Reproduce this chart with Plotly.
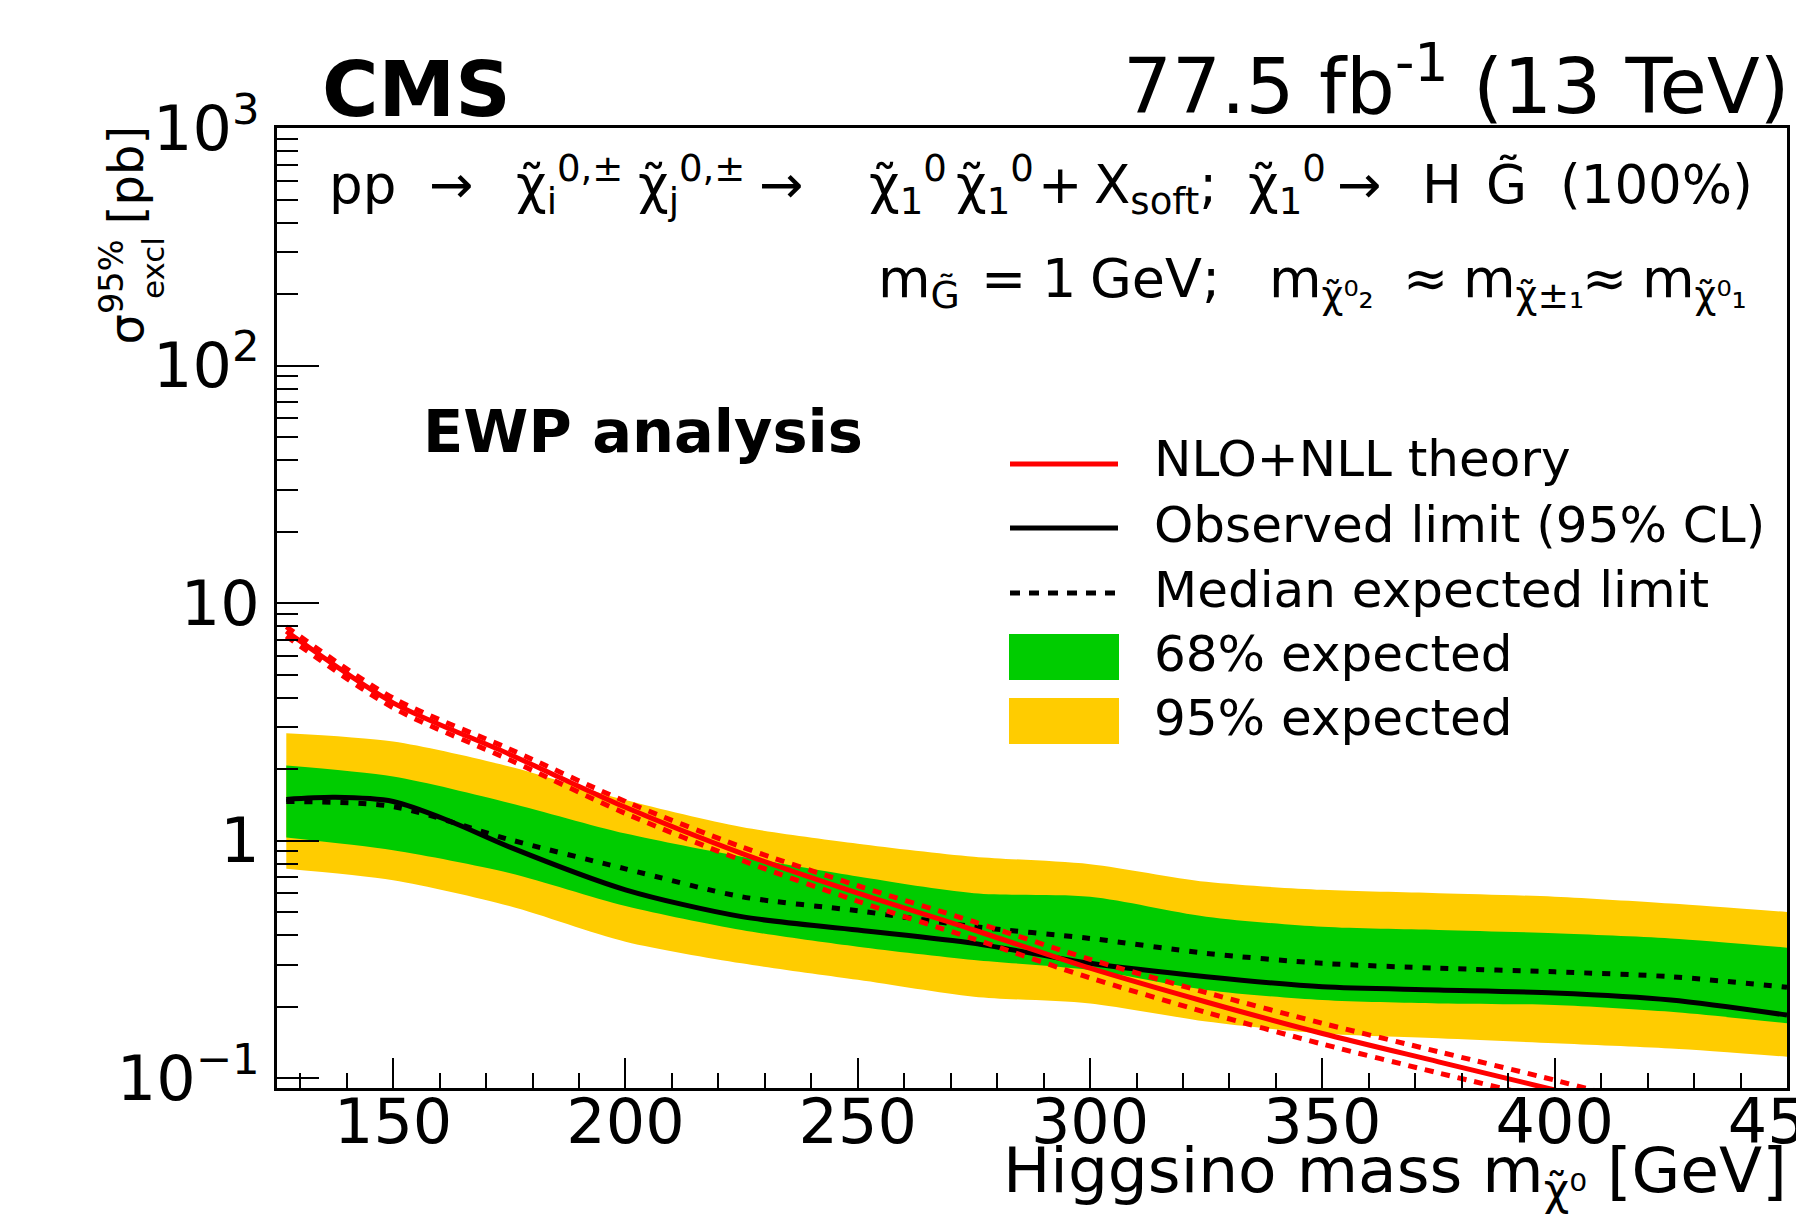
import plotly.graph_objects as go

# ---------------- data ----------------
mass = [127, 150, 175, 200, 225, 250, 275, 300, 325, 350, 375, 400, 425, 450]
yellow_hi = [2.83, 2.61, 2.05, 1.48, 1.14, 0.97, 0.855, 0.795, 0.67, 0.62, 0.60, 0.58, 0.543, 0.50]
green_hi = [2.07, 1.86, 1.44, 1.07, 0.855, 0.705, 0.60, 0.58, 0.478, 0.433, 0.42, 0.407, 0.387, 0.354]
green_lo = [1.03, 0.91, 0.73, 0.53, 0.42, 0.357, 0.314, 0.285, 0.235, 0.213, 0.206, 0.203, 0.19, 0.17]
yellow_lo = [0.76, 0.68, 0.53, 0.375, 0.304, 0.259, 0.22, 0.206, 0.173, 0.154, 0.147, 0.14, 0.133, 0.123]
expected = [1.46, 1.39, 1.01, 0.76, 0.58, 0.506, 0.434, 0.387, 0.335, 0.304, 0.29, 0.28, 0.267, 0.241]

mass_obs = [127, 137.5, 150, 162.5, 175, 200, 225, 250, 275, 300, 325, 350, 375, 400, 425, 450]
observed = [1.49, 1.52, 1.46, 1.20, 0.94, 0.62, 0.478, 0.42, 0.369, 0.304, 0.267, 0.242, 0.235, 0.228, 0.213, 0.184]

mass_th = [127, 150, 175, 200, 225, 250, 275, 300, 325, 350, 375, 400, 410]
theory = [7.6, 3.80, 2.31, 1.38, 0.883, 0.60, 0.42, 0.29, 0.209, 0.154, 0.117, 0.089, 0.079]
theory_up = [7.95, 3.98, 2.43, 1.46, 0.94, 0.645, 0.455, 0.316, 0.229, 0.170, 0.129, 0.098, 0.087]
theory_dn = [7.25, 3.62, 2.19, 1.30, 0.826, 0.555, 0.385, 0.264, 0.189, 0.139, 0.105, 0.080, 0.071]

x_major = [150, 200, 250, 300, 350, 400, 450]
y_major = [0.1, 1, 10, 100, 1000]
y_major_text = ["10<sup>\u22121</sup>", "1", "10", "10<sup>2</sup>", "10<sup>3</sup>"]

legend_labels = ["NLO+NLL theory", "Observed limit (95% CL)", "Median expected limit",
                 "68% expected", "95% expected"]

# ---------------- style ----------------
FONT = "DejaVu Sans"
W, H = 1796, 1224
L, R, T, B = 277, 9, 128, 136
YELLOW, GREEN, RED = "#FFCC00", "#00CC00", "#FF0000"
SP = "<sup>\u00a0</sup><sub>\u00a0</sub>"  # keeps every text piece on the same baseline

x_minor = [m for m in range(130, 450, 10) if m % 50 != 0]
y_minor = [k * 10.0 ** e for e in range(-2, 3) for k in range(2, 10)]

fig = go.Figure()
spl = dict(shape="spline", smoothing=0.8)

fig.add_trace(go.Scatter(x=mass, y=yellow_lo, mode="lines", line=dict(width=0, **spl),
                         showlegend=False, hoverinfo="skip"))
fig.add_trace(go.Scatter(x=mass, y=yellow_hi, mode="lines", line=dict(width=0, **spl),
                         fill="tonexty", fillcolor=YELLOW, name=legend_labels[4]))
fig.add_trace(go.Scatter(x=mass, y=green_lo, mode="lines", line=dict(width=0, **spl),
                         showlegend=False, hoverinfo="skip"))
fig.add_trace(go.Scatter(x=mass, y=green_hi, mode="lines", line=dict(width=0, **spl),
                         fill="tonexty", fillcolor=GREEN, name=legend_labels[3]))
fig.add_trace(go.Scatter(x=mass, y=expected, mode="lines",
                         line=dict(color="black", width=5, dash="8px,10px", **spl),
                         name=legend_labels[2]))
fig.add_trace(go.Scatter(x=mass_obs, y=observed, mode="lines",
                         line=dict(color="black", width=5, **spl),
                         name=legend_labels[1]))
for arr in (theory_up, theory_dn):
    fig.add_trace(go.Scatter(x=mass_th, y=arr, mode="lines",
                             line=dict(color=RED, width=5, dash="9px,8px", **spl),
                             showlegend=False, hoverinfo="skip"))
fig.add_trace(go.Scatter(x=mass_th, y=theory, mode="lines",
                         line=dict(color=RED, width=5, **spl),
                         name=legend_labels[0]))

axis_common = dict(showline=True, linewidth=3, linecolor="black", mirror=True, showgrid=False,
                   zeroline=False, ticks="inside", tickwidth=2, tickcolor="black", automargin=False,
                   tickfont=dict(family=FONT, size=62, color="black"))

fig.update_xaxes(range=[125, 450], tickmode="array", tickvals=x_major,
                 ticktext=[str(v) for v in x_major], ticklen=30, ticklabelstandoff=-22,
                 ticklabeloverflow="allow",
                 minor=dict(tickmode="array", tickvals=x_minor, ticklen=15, ticks="inside",
                            tickwidth=2, tickcolor="black"),
                 **axis_common)
fig.update_yaxes(type="log", range=[-1.042, 3], tickmode="array", tickvals=y_major,
                 ticktext=y_major_text, ticklen=42, ticklabelstandoff=2,
                 minor=dict(tickmode="array", tickvals=y_minor, ticklen=21, ticks="inside",
                            tickwidth=2, tickcolor="black"),
                 **axis_common)

pw, ph = W - L - R, H - T - B


def px(X):
    return (X - L) / pw


def py(Y):
    return (H - B - Y) / ph


def txt(text, X, Y, size, xa="left", ya="middle", angle=0):
    return dict(text=text, x=px(X), y=py(Y), xanchor=xa, yanchor=ya, textangle=angle,
                xref="paper", yref="paper", showarrow=False,
                font=dict(family=FONT, size=size, color="black"))


chi = "\u03c7\u0303"
ann = [
    txt("<b>CMS</b>", 320, 89, 77),
    txt("77.5 fb<sup>-1</sup> (13 TeV)", 1792, 81, 77, xa="right"),
    txt("<b>EWP analysis</b>", 421, 431, 59),
    txt("Higgsino mass m<sub>" + chi + "\u2070</sub> [GeV]", 1789, 1174, 63, xa="right"),
    txt("\u03c3<sup>95%</sup>\u00a0[pb]", 122, 124, 48, xa="center", ya="top", angle=-90),
    txt("excl", 153, 268, 31, xa="center", angle=-90),
]

line1 = [("pp", 327), ("\u2192", 427), (chi + "<sub>i</sub><sup>0,\u00b1</sup>", 514),
         (chi + "<sub>j</sub><sup>0,\u00b1</sup>", 636), ("\u2192", 757),
         (chi + "<sub>1</sub><sup>0</sup>", 867), (chi + "<sub>1</sub><sup>0</sup>", 954),
         ("+", 1036), ("X<sub>soft</sub>;", 1092), (chi + "<sub>1</sub><sup>0</sup>", 1246),
         ("\u2192", 1335), ("H", 1420), ("G\u0303", 1484), ("(100%)", 1558)]
for t, X in line1:
    ann.append(txt(t + SP, X, 185, 53))

line2 = [("m<sub>G\u0303</sub>", 876), ("=", 979), ("1", 1040), ("GeV;", 1088),
         ("m<sub>" + chi + "\u2070\u2082</sub>", 1267), ("\u2248", 1401),
         ("m<sub>" + chi + "\u00b1\u2081</sub>", 1461), ("\u2248", 1580),
         ("m<sub>" + chi + "\u2070\u2081</sub>", 1640)]
for t, X in line2:
    ann.append(txt(t + SP, X, 278, 54))

# ---------------- legend (drawn as layout decorations) ----------------
leg_y = [461, 527, 592, 656, 720]
for lab, Y in zip(legend_labels, leg_y):
    ann.append(txt(lab, 1152, Y - 2, 50))

shapes = []
sx0, sx1 = px(1010), px(1118)
for Y, col, dash in [(464, RED, "solid"), (528, "black", "solid"), (593, "black", "10px,9px")]:
    shapes.append(dict(type="line", xref="paper", yref="paper", x0=sx0, x1=sx1, y0=py(Y), y1=py(Y),
                       line=dict(color=col, width=5, dash=dash)))
for Y0, Y1, col in [(634, 680, GREEN), (698, 744, YELLOW)]:
    shapes.append(dict(type="rect", xref="paper", yref="paper", x0=px(1009), x1=px(1119),
                       y0=py(Y1), y1=py(Y0), fillcolor=col, line=dict(width=0)))

fig.update_layout(
    width=W, height=H,
    margin=dict(l=L, r=R, t=T, b=B),
    paper_bgcolor="white", plot_bgcolor="white",
    annotations=ann,
    shapes=shapes,
    showlegend=False,
)

fig.write_html("out.html",
               config={"displayModeBar": False},
               post_script="document.body.style.margin='0';"
                           "document.body.style.overflow='hidden';"
                           "document.documentElement.style.overflow='hidden';")
